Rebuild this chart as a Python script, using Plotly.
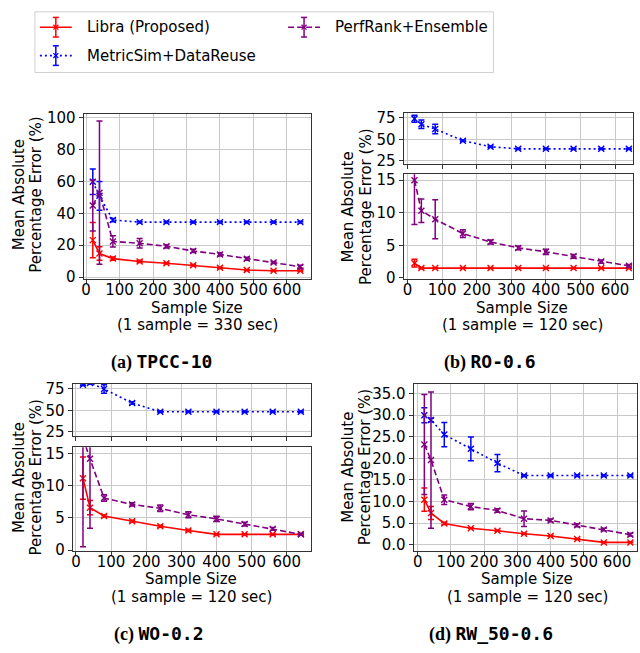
import plotly.graph_objects as go

W, H = 640, 653

# ---------------- data ----------------
sample_sizes = [20, 40, 80, 160, 240, 320, 400, 480, 560, 640]
x_ticks = [0, 100, 200, 300, 400, 500, 600]

series_names = ["Libra (Proposed)", "MetricSim+DataReuse", "PerfRank+Ensemble"]

# (a) TPCC-10
a_libra = [23.2, 14.8, 11.6, 9.8, 8.7, 7.4, 5.8, 4.4, 4.0, 4.0]
a_libra_err = [11.0, 4.3, 1.0, 0.7, 0.5, 0.5, 0.4, 0.4, 0.3, 0.3]
a_metric = [59.8, 51.0, 35.8, 34.5, 34.5, 34.5, 34.5, 34.5, 34.5, 34.5]
a_metric_err = [8.0, 9.0, 1.0, 0.6, 0.5, 0.5, 0.5, 0.5, 0.5, 0.5]
a_perf = [45.0, 53.0, 22.4, 21.2, 19.3, 16.4, 14.2, 11.5, 9.2, 6.5]
a_perf_err = [16.0, 45.0, 3.5, 3.0, 1.0, 1.0, 1.0, 1.0, 0.6, 1.0]

# (b) RO-0.6
b_libra = [2.25, 1.5, 1.5, 1.5, 1.5, 1.5, 1.5, 1.5, 1.5, 1.5]
b_libra_err = [0.6, 0.1, 0.05, 0.05, 0.05, 0.05, 0.05, 0.05, 0.05, 0.05]
b_metric = [74.0, 67.5, 62.0, 48.5, 41.5, 39.0, 39.0, 39.0, 39.0, 39.0]
b_metric_err = [4.0, 5.0, 5.5, 1.0, 0.8, 0.8, 0.8, 0.8, 0.8, 0.8]
b_perf = [15.0, 10.3, 9.0, 6.8, 5.5, 4.6, 4.0, 3.3, 2.5, 1.85]
b_perf_err = [6.8, 1.8, 3.0, 0.6, 0.3, 0.3, 0.4, 0.3, 0.25, 0.2]

# (c) WO-0.2
c_libra = [11.2, 6.6, 5.3, 4.5, 3.7, 3.05, 2.45, 2.45, 2.45, 2.45]
c_libra_err = [3.3, 1.1, 0.2, 0.15, 0.15, 0.15, 0.1, 0.1, 0.1, 0.1]
c_metric = [80.0, 82.0, 75.0, 58.5, 48.3, 48.3, 48.3, 48.3, 48.3, 48.3]
c_metric_err = [1.0, 1.0, 5.0, 1.5, 0.8, 0.8, 0.8, 0.8, 0.8, 0.8]
c_perf = [17.5, 14.2, 8.1, 7.1, 6.5, 5.5, 4.85, 4.05, 3.3, 2.45]
c_perf_err = [17.0, 10.8, 0.5, 0.25, 0.5, 0.45, 0.4, 0.3, 0.2, 0.15]

# (d) RW_50-0.6
d_libra = [10.4, 7.3, 4.9, 3.8, 3.2, 2.5, 2.0, 1.3, 0.5, 0.5]
d_libra_err = [2.7, 1.5, 0.25, 0.1, 0.1, 0.1, 0.1, 0.1, 0.1, 0.1]
d_metric = [30.0, 28.9, 25.5, 22.2, 18.9, 16.0, 16.0, 16.0, 16.0, 16.0]
d_metric_err = [1.75, 0.4, 2.8, 2.75, 2.0, 0.2, 0.2, 0.2, 0.2, 0.2]
d_perf = [23.2, 19.6, 10.4, 8.8, 7.9, 6.0, 5.6, 4.5, 3.5, 2.3]
d_perf_err = [11.6, 15.8, 1.1, 0.7, 0.4, 1.8, 0.3, 0.35, 0.3, 0.3]

captions = [("(a)", "TPCC-10"), ("(b)", "RO-0.6"), ("(c)", "WO-0.2"), ("(d)", "RW_50-0.6")]
x_notes = ["(1 sample = 330 sec)", "(1 sample = 120 sec)", "(1 sample = 120 sec)", "(1 sample = 120 sec)"]

# ---------------- styles ----------------
RED, BLUE, PURPLE = "#ff0000", "#0000ff", "#800080"
DASH = {"libra": "solid", "metric": "2px,3px", "perf": "6px,3px"}
COL = {"libra": RED, "metric": BLUE, "perf": PURPLE}
FONT = "DejaVu Sans"
SPINE = "#333333"
GRID = "#c8c8c8"


def px(x):
    return x / W


def py(y):
    return 1 - y / H


fig = go.Figure()


def add_series(key, ys, errs, xa, ya):
    c = COL[key]
    fig.add_trace(go.Scatter(
        x=sample_sizes, y=ys, xaxis=xa, yaxis=ya, mode="lines+markers",
        line=dict(color=c, width=1.6, dash=DASH[key]),
        marker=dict(symbol="x-thin", size=6, line=dict(color=c, width=1.4)),
        error_y=dict(type="data", array=errs, visible=True, color=c, thickness=1.5, width=3),
        showlegend=False, hoverinfo="x+y",
    ))


def make_axes(idx, xdom, ydom, xr, yr, ytickvals, showxlabels, ytext=None):
    xname = "xaxis" if idx == 1 else f"xaxis{idx}"
    yname = "yaxis" if idx == 1 else f"yaxis{idx}"
    xref = "x" if idx == 1 else f"x{idx}"
    yref = "y" if idx == 1 else f"y{idx}"
    common = dict(showline=True, mirror=True, linecolor=SPINE, linewidth=1.2,
                  ticks="outside", ticklen=4, tickwidth=1.2, tickcolor=SPINE,
                  showgrid=True, gridcolor=GRID, gridwidth=1, zeroline=False,
                  tickfont=dict(family=FONT, size=15, color="black"))
    fig.layout[xname] = dict(domain=[px(xdom[0]), px(xdom[1])], range=xr, anchor=yref,
                             tickvals=x_ticks, showticklabels=showxlabels,
                             ticklabelstandoff=-7, **common)
    yd = dict(domain=[py(ydom[1]), py(ydom[0])], range=yr, anchor=xref,
              tickvals=ytickvals, **common)
    if ytext is not None:
        yd["ticktext"] = ytext
    fig.layout[yname] = yd
    return xref, yref


# (a)
xa, ya = make_axes(1, (82, 310), (111, 280), [-7, 672], [-1.2, 102.6], [0, 20, 40, 60, 80, 100], True)
add_series("libra", a_libra, a_libra_err, xa, ya)
add_series("metric", a_metric, a_metric_err, xa, ya)
add_series("perf", a_perf, a_perf_err, xa, ya)

# (b) broken axis
xb1, yb1 = make_axes(2, (403, 633), (110, 162), [-11, 652], [22, 81], [25, 50, 75], False)
xb2, yb2 = make_axes(3, (403, 633), (173, 279.5), [-11, 652], [-0.1, 15.9], [0, 5, 10, 15], True)
add_series("metric", b_metric, b_metric_err, xb1, yb1)
add_series("libra", b_libra, b_libra_err, xb2, yb2)
add_series("perf", b_perf, b_perf_err, xb2, yb2)

# (c) broken axis
xc1, yc1 = make_axes(4, (71, 310), (387, 440), [-9, 669], [20.4, 81.2], [25, 50, 75], False)
xc2, yc2 = make_axes(5, (71, 310), (452, 558), [-9, 669], [-0.15, 16], [0, 5, 10, 15], True)
add_series("metric", c_metric, c_metric_err, xc1, yc1)
add_series("libra", c_libra, c_libra_err, xc2, yc2)
add_series("perf", c_perf, c_perf_err, xc2, yc2)

# (d)
d_yt = [0, 5, 10, 15, 20, 25, 30, 35]
xd, yd = make_axes(6, (413, 637), (387, 558), [-12, 660], [-1.5, 37.3], d_yt, True,
                   [f"{v:.1f}" for v in d_yt])
add_series("libra", d_libra, d_libra_err, xd, yd)
add_series("metric", d_metric, d_metric_err, xd, yd)
add_series("perf", d_perf, d_perf_err, xd, yd)

annotations = []
shapes = []


def text(x, y, s, size=15, angle=0, family=FONT, xanchor="center"):
    annotations.append(dict(x=px(x), y=py(y), xref="paper", yref="paper", text=s,
                            showarrow=False, textangle=angle, xanchor=xanchor, yanchor="middle",
                            font=dict(family=family, size=size, color="black")))


# y-axis titles (two lines each)
for (x1, x2, yc) in [(16.5, 34, 194), (347, 364.5, 206), (16.5, 34, 483), (347, 364.5, 472)]:
    text(x1, yc, "Mean Absolute", angle=-90)
    text(x2, yc, "Percentage Error (%)", angle=-90)

# x-axis titles
for (xc, y1, note) in [(196, 310, x_notes[0]), (522, 310, x_notes[1]),
                       (190, 587, x_notes[2]), (527, 587, x_notes[3])]:
    text(xc, y1, "Sample Size")
    text(xc, y1 + 17.5, note)

# captions
for (xc, yc), (lab, code) in zip([(160, 365), (490, 365), (157, 643), (491, 643)], captions):
    annotations.append(dict(
        x=px(xc), y=py(yc), xref="paper", yref="paper", showarrow=False,
        xanchor="center", yanchor="middle",
        text=f"<b>{lab}</b> <span style='font-family:DejaVu Sans Mono'><b>{code}</b></span>",
        font=dict(family="Liberation Serif", size=18, color="black")))

# legend (drawn box)
shapes.append(dict(type="rect", xref="paper", yref="paper", x0=px(33), x1=px(493), y0=py(69), y1=py(7),
                   line=dict(color="#d0d0d0", width=1), fillcolor="white", layer="below"))


def legend_item(x0, yc, key, label):
    c = COL[key]
    dash = DASH[key]
    xm = x0 + 16
    shapes.append(dict(type="line", xref="paper", yref="paper", x0=px(x0), x1=px(x0 + 32),
                       y0=py(yc), y1=py(yc), line=dict(color=c, width=1.6, dash=dash)))
    shapes.append(dict(type="line", xref="paper", yref="paper", x0=px(xm), x1=px(xm),
                       y0=py(yc - 10), y1=py(yc + 10), line=dict(color=c, width=1.5)))
    for dy in (-10, 10):
        shapes.append(dict(type="line", xref="paper", yref="paper", x0=px(xm - 3), x1=px(xm + 3),
                           y0=py(yc + dy), y1=py(yc + dy), line=dict(color=c, width=1.5)))
    for s in (-1, 1):
        shapes.append(dict(type="line", xref="paper", yref="paper", x0=px(xm - 2.5), x1=px(xm + 2.5),
                           y0=py(yc - 2.5 * s), y1=py(yc + 2.5 * s), line=dict(color=c, width=1.3)))
    text(x0 + 45, yc, label, xanchor="left")


legend_item(38, 22.7, "libra", series_names[0])
legend_item(287, 22.7, "perf", series_names[2])
legend_item(38, 51.7, "metric", series_names[1])

fig.update_layout(width=W, height=H, margin=dict(l=0, r=0, t=0, b=0),
                  paper_bgcolor="white", plot_bgcolor="white",
                  annotations=annotations, shapes=shapes, showlegend=False)

fig.write_html("out.html")
